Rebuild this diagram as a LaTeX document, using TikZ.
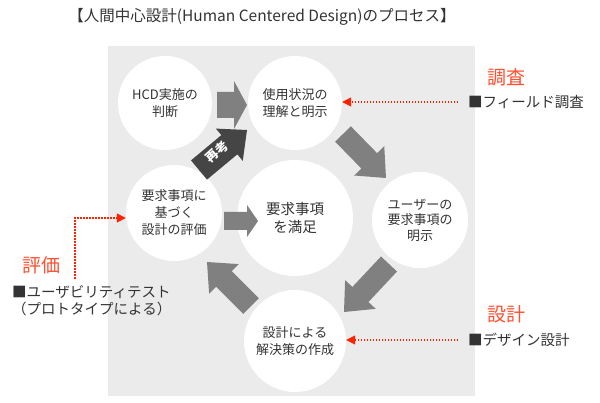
\documentclass[tikz,border=0pt]{standalone}
\usepackage{fontspec}
\setmainfont{Noto Sans CJK JP}
\usetikzlibrary{calc,arrows.meta}
\definecolor{bgc}{HTML}{EBEBEB}
\definecolor{arrc}{HTML}{808080}
\definecolor{darrc}{HTML}{454545}
\definecolor{txtc}{HTML}{333333}
\definecolor{redline}{HTML}{FF2200}
\definecolor{redhead}{HTML}{FF5030}
% tail, tip, half shaft, half head, head length, colour
\newcommand{\myblockarrow}[6]{%
  \coordinate (ba) at ($(#2)!#5!(#1)$);
  \fill[#6] ($(#1)!#3!90:(#2)$) -- ($(ba)!#3!-90:(#1)$) -- ($(ba)!#4!-90:(#1)$) -- (#2)
    -- ($(ba)!#4!90:(#1)$) -- ($(ba)!#3!90:(#1)$) -- ($(#1)!#3!-90:(#2)$) -- cycle;}
\begin{document}
\begin{tikzpicture}[x=1pt,y=-1pt,
  circ/.style={circle, fill=white, minimum size=#1, inner sep=0pt, align=center,
    text=txtc, font=\fontsize{13}{17}\selectfont},
  lbl/.style={text=txtc, inner sep=0pt, font=\fontsize{14.5}{17.5}\selectfont},
  headlbl/.style={text=redhead, inner sep=0pt, font=\fontsize{19}{20}\selectfont},
  reddot/.style={draw=redline, line width=1.5pt, dash pattern=on 1.5pt off 1.5pt,
    -{Triangle[length=9pt,width=9pt,fill=redline]}}]
\useasboundingbox (0,0) rectangle (600,403);
\fill[white] (0,0) rectangle (600,403);
% title
\node[text=txtc, font=\fontsize{15.5}{18}\selectfont] (title) at (262,17)
  {【人間中心設計(Human Centered Design)のプロセス】};
% background panel
\fill[bgc] (108,46) rectangle (475,396);
% circles
\node[circ=94pt] (hcd) at (165,103) {HCD実施の\\判断};
\node[circ=94pt] (use) at (295,103) {使用状況の\\理解と明示};
\node[circ=96pt, font=\fontsize{13}{15.5}\selectfont] (user) at (420,220) {ユーザーの\\要求事項の\\明示};
\node[circ=102pt] (design) at (295,341) {設計による\\解決策の作成};
\node[circ=96pt] (evalc) at (174,213) {要求事項に\\基づく\\設計の評価};
\node[circ=116pt, font=\fontsize{14.5}{18}\selectfont] (center) at (295,218) {要求事項\\を満足};
% block arrows
\coordinate (a1t) at (217,105); \coordinate (a1h) at (247,105);
\myblockarrow{a1t}{a1h}{13pt}{24pt}{13pt}{arrc}
\coordinate (a2t) at (343,134); \coordinate (a2h) at (386,178);
\myblockarrow{a2t}{a2h}{11pt}{21pt}{24pt}{arrc}
\coordinate (a3t) at (389,264); \coordinate (a3h) at (344,312);
\myblockarrow{a3t}{a3h}{11pt}{21pt}{24pt}{arrc}
\coordinate (a4t) at (251,306); \coordinate (a4h) at (207,262);
\myblockarrow{a4t}{a4h}{11pt}{21pt}{24pt}{arrc}
\coordinate (a5t) at (224,221); \coordinate (a5h) at (258,221);
\myblockarrow{a5t}{a5h}{9pt}{16pt}{11pt}{arrc}
\coordinate (a6t) at (199,170); \coordinate (a6h) at (247,130);
\myblockarrow{a6t}{a6h}{12.5pt}{21pt}{23pt}{darrc}
\node[rotate=42, text=white, inner sep=0pt, font=\fontsize{12.5}{13}\selectfont\bfseries] (saiko) at (217,152) {再考};
% labels
\node[headlbl] (chosa) at (506,77) {調査};
\node[lbl, anchor=west] (field) at (468,102) {■フィールド調査};
\node[headlbl] (sekkei) at (506,314) {設計};
\node[lbl, anchor=west] (dsgn) at (468,340) {■デザイン設計};
\node[headlbl] (hyoka) at (42,265) {評価};
\node[lbl, anchor=west, align=left] (usab) at (12,300.5) {■ユーザビリティテスト\\（プロトタイプによる）};
% red dotted arrows
\draw[reddot, shorten <=10pt] (field.west) -- (field.west -| use.east);
\draw[reddot, shorten <=10pt] (dsgn.west) -- (dsgn.west -| design.east);
\coordinate (ev0) at (75,279);
\draw[reddot] (ev0) |- ([yshift=-5pt]evalc.west);
\end{tikzpicture}
\end{document}
